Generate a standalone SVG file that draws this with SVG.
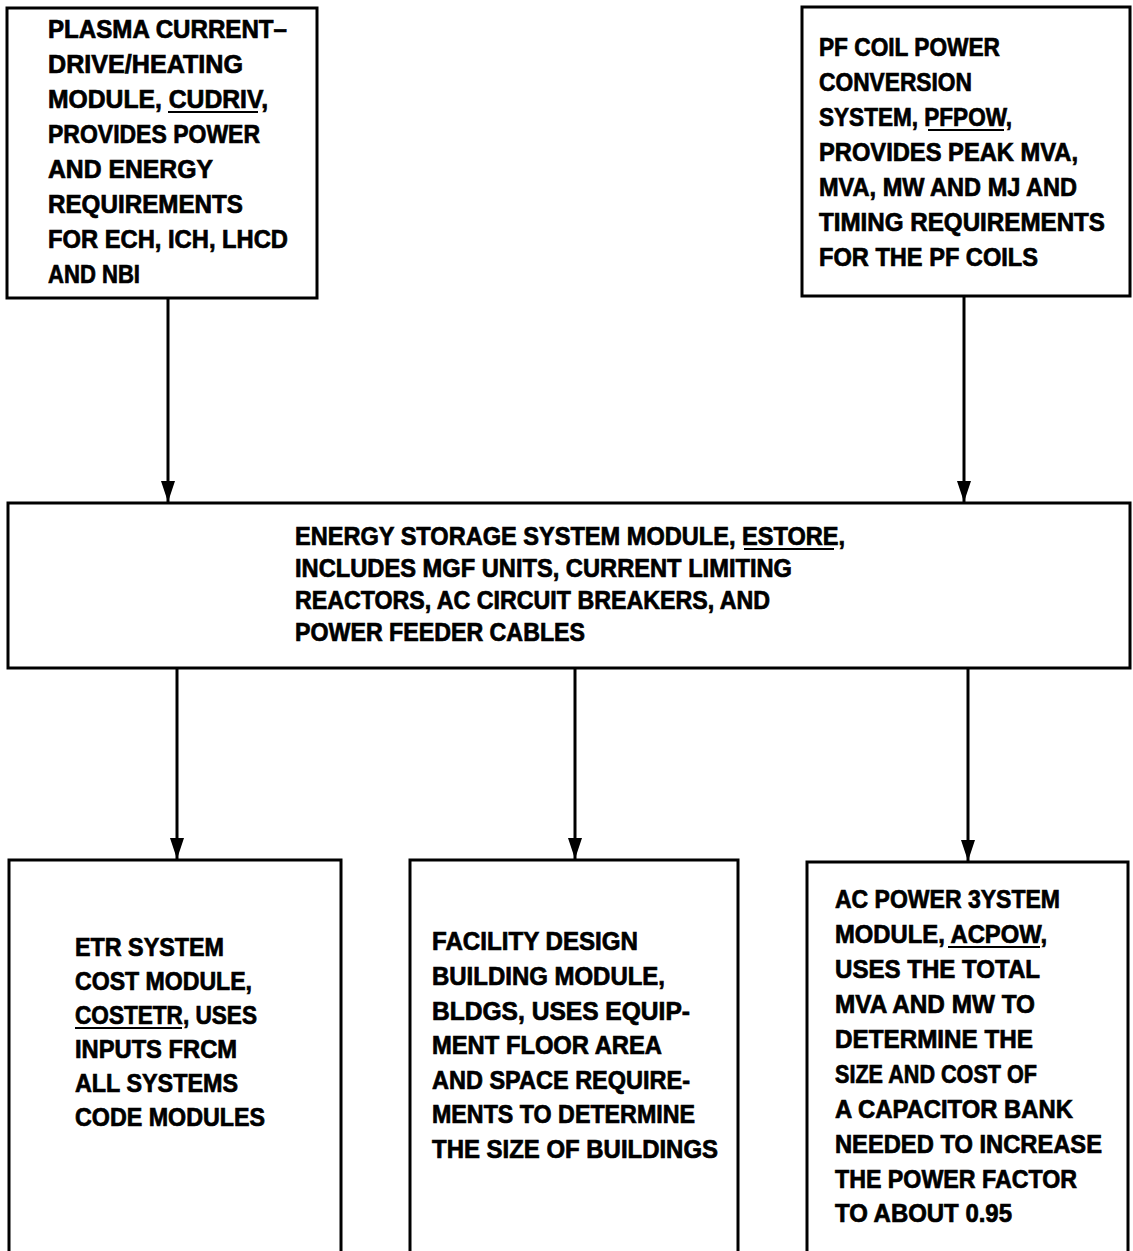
<svg xmlns="http://www.w3.org/2000/svg" width="1133" height="1251" viewBox="0 0 1133 1251">
  <style>
    .box { fill: #ffffff; stroke: #000000; stroke-width: 3; }
    .lbl { font-family: "Liberation Sans", Arial, sans-serif; font-weight: bold; font-size: 25px; fill: #000000; stroke: #000000; stroke-width: 0.7; }
    .ul { stroke: #000000; stroke-width: 2; }
    .wire { stroke: #000000; stroke-width: 3; fill: none; }
  </style>
  <defs>
    <marker id="arrow" viewBox="0 0 21 14" refX="21" refY="7" markerWidth="21" markerHeight="14" markerUnits="userSpaceOnUse" orient="auto">
      <path d="M0,0 L21,7 L0,14 Z" fill="#000000"/>
    </marker>
  </defs>
  <rect width="1133" height="1251" fill="#ffffff"/>

  <!-- connectors -->
  <g id="connectors">
    <line class="wire" x1="168" y1="298" x2="168" y2="502" marker-end="url(#arrow)"/>
    <line class="wire" x1="964" y1="296" x2="964" y2="502" marker-end="url(#arrow)"/>
    <line class="wire" x1="177" y1="668" x2="177" y2="859" marker-end="url(#arrow)"/>
    <line class="wire" x1="575" y1="668" x2="575" y2="859" marker-end="url(#arrow)"/>
    <line class="wire" x1="968" y1="668" x2="968" y2="861" marker-end="url(#arrow)"/>
  </g>

  <!-- plasma current-drive / heating module -->
  <g id="cudriv">
    <rect class="box" x="7" y="8" width="310" height="290"/>
    <text class="lbl" x="48" y="38" textLength="239" lengthAdjust="spacingAndGlyphs">PLASMA CURRENT–</text>
    <text class="lbl" x="48" y="73" textLength="195" lengthAdjust="spacingAndGlyphs">DRIVE/HEATING</text>
    <text class="lbl" x="48" y="108" textLength="220" lengthAdjust="spacingAndGlyphs">MODULE, CUDRIV,</text>
    <line class="ul" x1="168" y1="112" x2="258" y2="112"/>
    <text class="lbl" x="48" y="143" textLength="212" lengthAdjust="spacingAndGlyphs">PROVIDES POWER</text>
    <text class="lbl" x="48" y="178" textLength="165" lengthAdjust="spacingAndGlyphs">AND ENERGY</text>
    <text class="lbl" x="48" y="213" textLength="195" lengthAdjust="spacingAndGlyphs">REQUIREMENTS</text>
    <text class="lbl" x="48" y="248" textLength="240" lengthAdjust="spacingAndGlyphs">FOR ECH, ICH, LHCD</text>
    <text class="lbl" x="48" y="283" textLength="92" lengthAdjust="spacingAndGlyphs">AND NBI</text>
  </g>

  <!-- PF coil power conversion system -->
  <g id="pfpow">
    <rect class="box" x="802" y="7" width="328" height="289"/>
    <text class="lbl" x="819" y="56" textLength="181" lengthAdjust="spacingAndGlyphs">PF COIL POWER</text>
    <text class="lbl" x="819" y="91" textLength="153" lengthAdjust="spacingAndGlyphs">CONVERSION</text>
    <text class="lbl" x="819" y="126" textLength="193" lengthAdjust="spacingAndGlyphs">SYSTEM, PFPOW,</text>
    <line class="ul" x1="928" y1="130" x2="1004" y2="130"/>
    <text class="lbl" x="819" y="161" textLength="259" lengthAdjust="spacingAndGlyphs">PROVIDES PEAK MVA,</text>
    <text class="lbl" x="819" y="196" textLength="258" lengthAdjust="spacingAndGlyphs">MVA, MW AND MJ AND</text>
    <text class="lbl" x="819" y="231" textLength="286" lengthAdjust="spacingAndGlyphs">TIMING REQUIREMENTS</text>
    <text class="lbl" x="819" y="266" textLength="219" lengthAdjust="spacingAndGlyphs">FOR THE PF COILS</text>
  </g>

  <!-- energy storage system module -->
  <g id="estore">
    <rect class="box" x="8" y="503" width="1122" height="165"/>
    <text class="lbl" x="295" y="545" textLength="550" lengthAdjust="spacingAndGlyphs">ENERGY STORAGE SYSTEM MODULE, ESTORE,</text>
    <line class="ul" x1="744" y1="549" x2="834" y2="549"/>
    <text class="lbl" x="295" y="577" textLength="497" lengthAdjust="spacingAndGlyphs">INCLUDES MGF UNITS, CURRENT LIMITING</text>
    <text class="lbl" x="295" y="609" textLength="475" lengthAdjust="spacingAndGlyphs">REACTORS, AC CIRCUIT BREAKERS, AND</text>
    <text class="lbl" x="295" y="641" textLength="290" lengthAdjust="spacingAndGlyphs">POWER FEEDER CABLES</text>
  </g>

  <!-- ETR system cost module -->
  <g id="costetr">
    <rect class="box" x="9" y="860" width="332" height="420"/>
    <text class="lbl" x="75" y="956" textLength="149" lengthAdjust="spacingAndGlyphs">ETR SYSTEM</text>
    <text class="lbl" x="75" y="990" textLength="177" lengthAdjust="spacingAndGlyphs">COST MODULE,</text>
    <text class="lbl" x="75" y="1024" textLength="182" lengthAdjust="spacingAndGlyphs">COSTETR, USES</text>
    <line class="ul" x1="75" y1="1028" x2="182" y2="1028"/>
    <text class="lbl" x="75" y="1058" textLength="162" lengthAdjust="spacingAndGlyphs">INPUTS FRCM</text>
    <text class="lbl" x="75" y="1092" textLength="163" lengthAdjust="spacingAndGlyphs">ALL SYSTEMS</text>
    <text class="lbl" x="75" y="1126" textLength="190" lengthAdjust="spacingAndGlyphs">CODE MODULES</text>
  </g>

  <!-- facility design building module -->
  <g id="bldgs">
    <rect class="box" x="410" y="860" width="328" height="420"/>
    <text class="lbl" x="432" y="950" textLength="206" lengthAdjust="spacingAndGlyphs">FACILITY DESIGN</text>
    <text class="lbl" x="432" y="985" textLength="233" lengthAdjust="spacingAndGlyphs">BUILDING MODULE,</text>
    <text class="lbl" x="432" y="1020" textLength="258" lengthAdjust="spacingAndGlyphs">BLDGS, USES EQUIP-</text>
    <text class="lbl" x="432" y="1054" textLength="230" lengthAdjust="spacingAndGlyphs">MENT FLOOR AREA</text>
    <text class="lbl" x="432" y="1089" textLength="258" lengthAdjust="spacingAndGlyphs">AND SPACE REQUIRE-</text>
    <text class="lbl" x="432" y="1123" textLength="263" lengthAdjust="spacingAndGlyphs">MENTS TO DETERMINE</text>
    <text class="lbl" x="432" y="1158" textLength="286" lengthAdjust="spacingAndGlyphs">THE SIZE OF BUILDINGS</text>
  </g>

  <!-- AC power system module -->
  <g id="acpow">
    <rect class="box" x="807" y="862" width="321" height="420"/>
    <text class="lbl" x="835" y="908" textLength="225" lengthAdjust="spacingAndGlyphs">AC POWER 3YSTEM</text>
    <text class="lbl" x="835" y="943" textLength="212" lengthAdjust="spacingAndGlyphs">MODULE, ACPOW,</text>
    <line class="ul" x1="948" y1="947" x2="1040" y2="947"/>
    <text class="lbl" x="835" y="978" textLength="205" lengthAdjust="spacingAndGlyphs">USES THE TOTAL</text>
    <text class="lbl" x="835" y="1013" textLength="200" lengthAdjust="spacingAndGlyphs">MVA AND MW TO</text>
    <text class="lbl" x="835" y="1048" textLength="198" lengthAdjust="spacingAndGlyphs">DETERMINE THE</text>
    <text class="lbl" x="835" y="1083" textLength="202" lengthAdjust="spacingAndGlyphs">SIZE AND COST OF</text>
    <text class="lbl" x="835" y="1118" textLength="238" lengthAdjust="spacingAndGlyphs">A CAPACITOR BANK</text>
    <text class="lbl" x="835" y="1153" textLength="267" lengthAdjust="spacingAndGlyphs">NEEDED TO INCREASE</text>
    <text class="lbl" x="835" y="1188" textLength="242" lengthAdjust="spacingAndGlyphs">THE POWER FACTOR</text>
    <text class="lbl" x="835" y="1222" textLength="177" lengthAdjust="spacingAndGlyphs">TO ABOUT 0.95</text>
  </g>
</svg>
